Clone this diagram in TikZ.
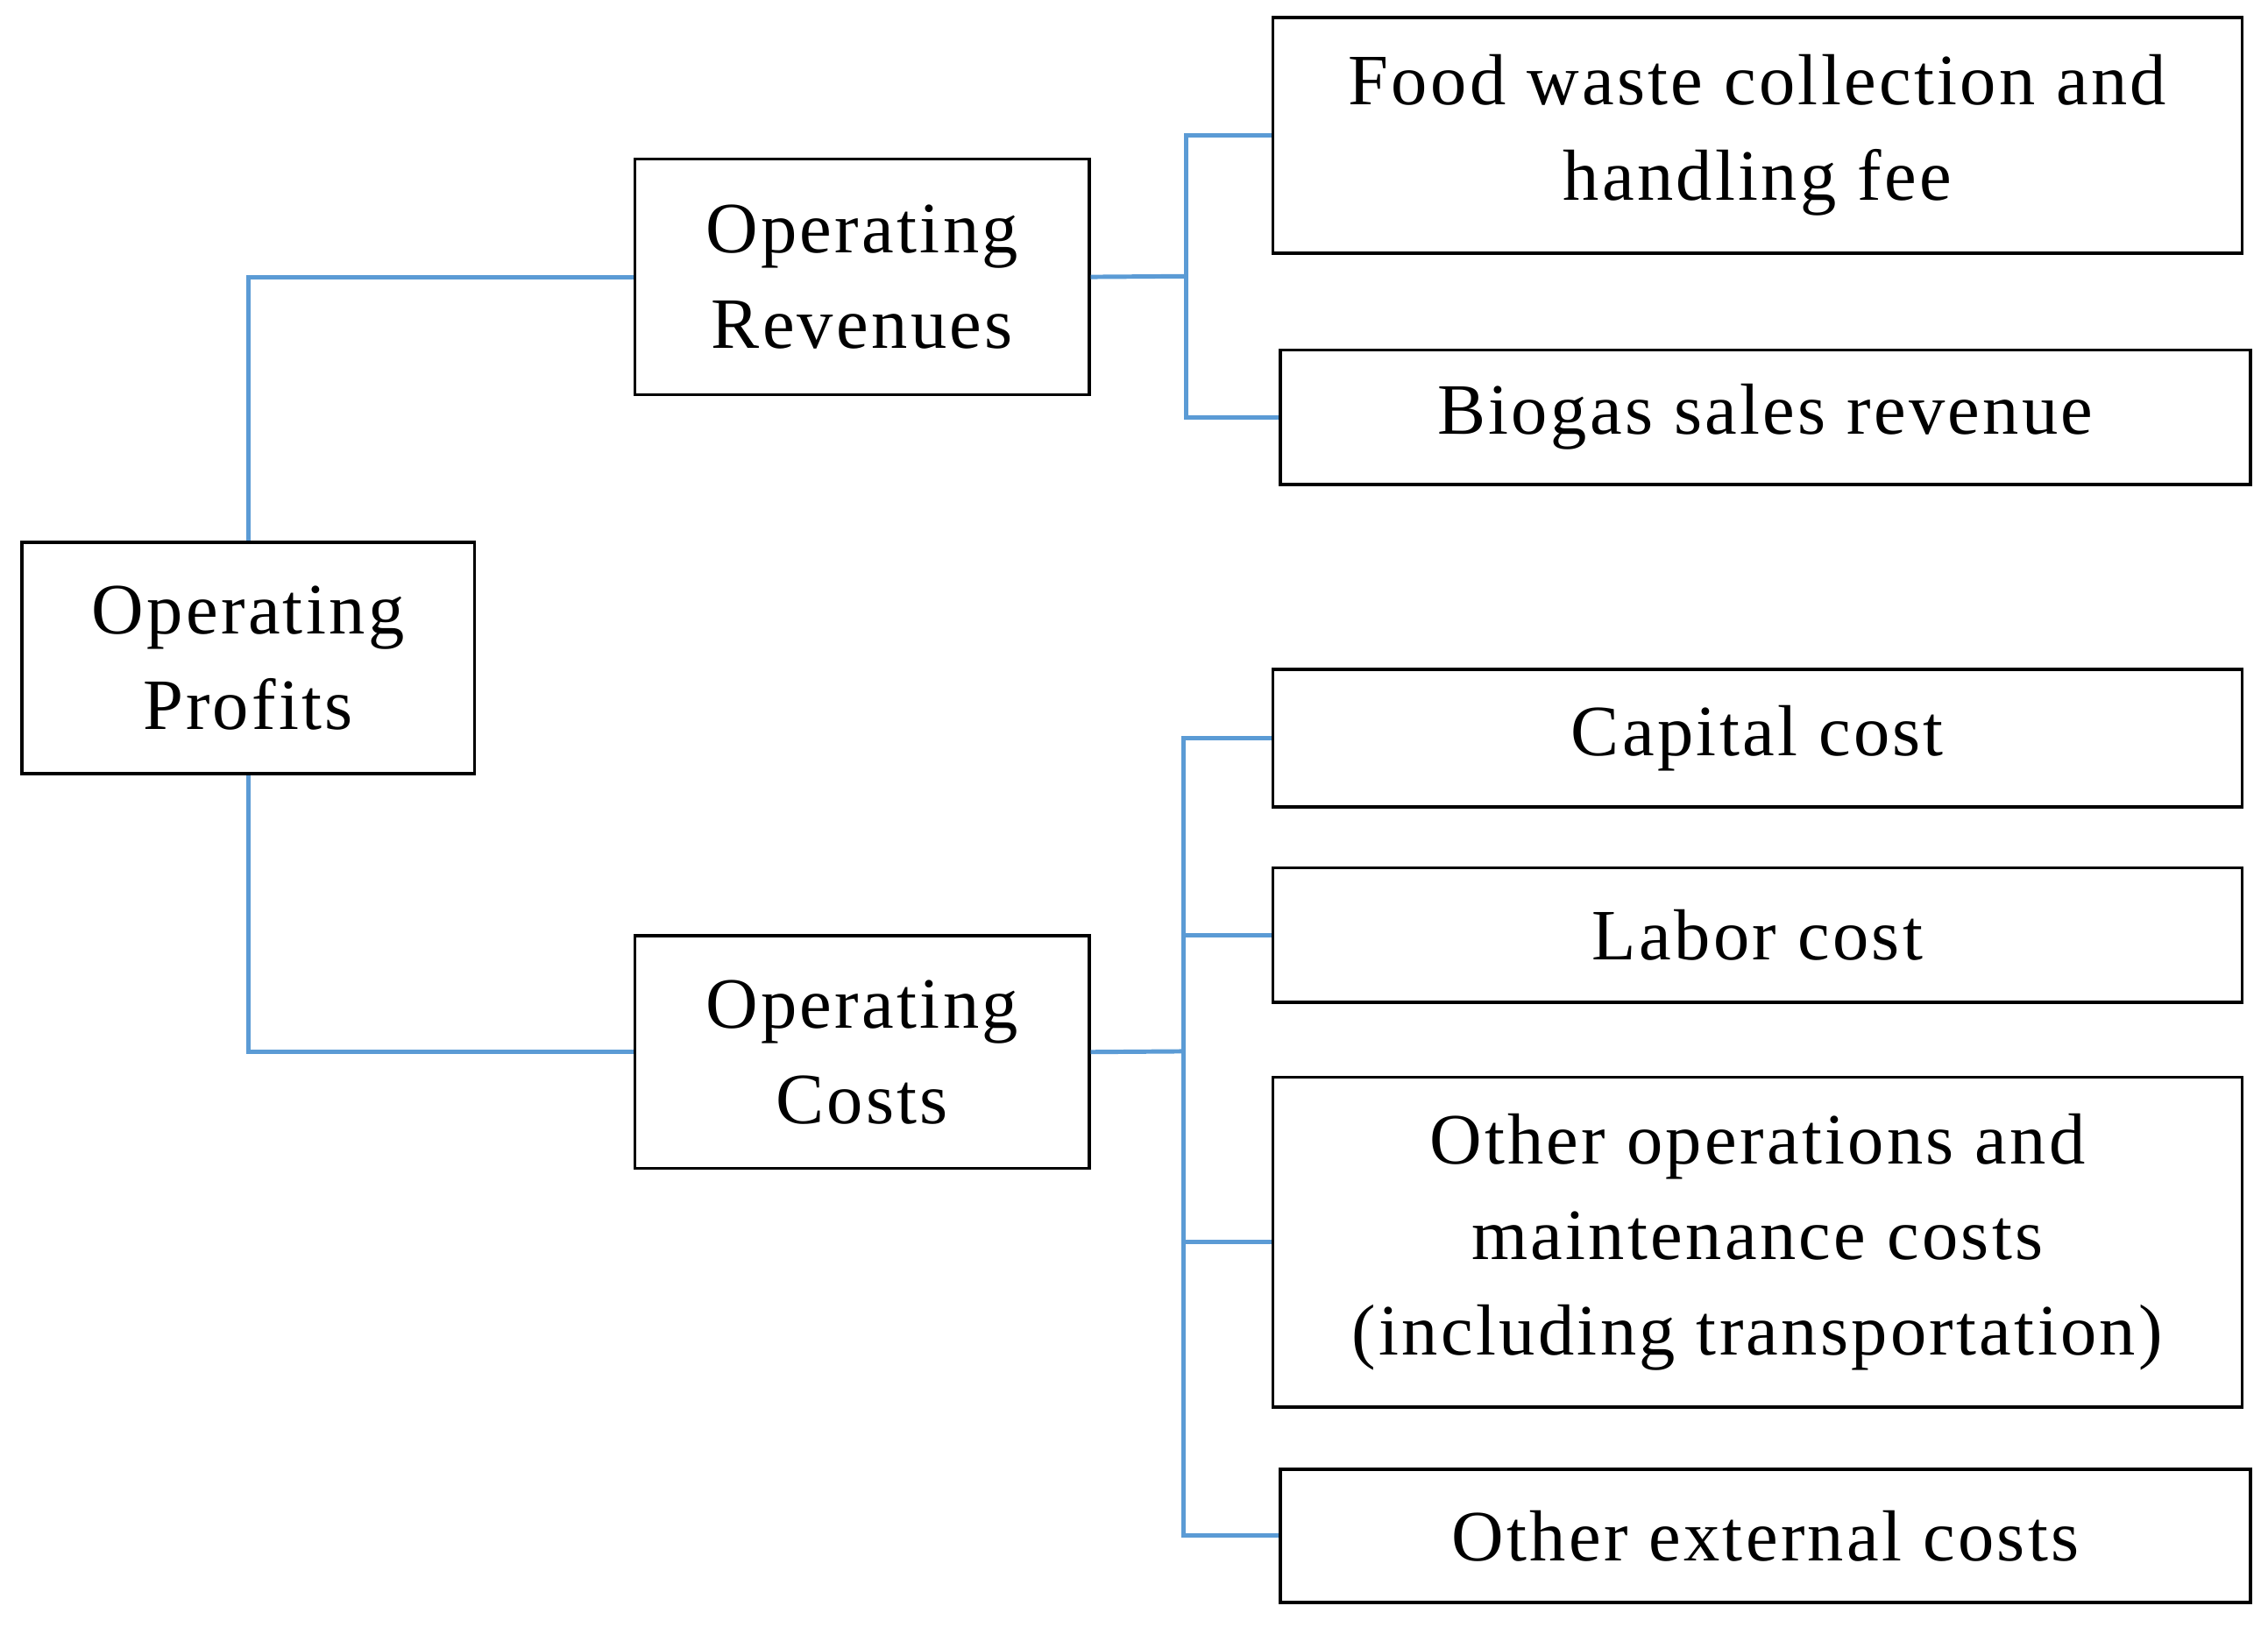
\documentclass[tikz,border=0pt]{standalone}
\usepackage{fontspec}
\setmainfont{Liberation Serif}[LetterSpace=4]
\definecolor{lb}{RGB}{91,155,213}
\begin{document}
\begin{tikzpicture}[x=1pt,y=-1pt,
  box/.style={draw=black,line width=2.2pt,align=center,font=\fontsize{50}{66}\selectfont,inner sep=0pt},
  con/.style={draw=lb,line width=3pt}]
\useasboundingbox (0,0) rectangle (1568,1125);
\node[box,minimum width=313pt,minimum height=160pt] (p) at (171.5,455) {Operating\\Profits};
\node[box,minimum width=314pt,minimum height=163pt] (r) at (596,191.5) {Operating\\Revenues};
\node[box,minimum width=314pt,minimum height=161pt] (c) at (596,727.5) {Operating\\Costs};
\node[box,minimum width=670pt,minimum height=163pt] (f) at (1215,93.5) {Food waste collection and\\handling fee};
\node[box,minimum width=671pt,minimum height=93pt] (b) at (1220.5,288.5) {Biogas sales revenue};
\node[box,minimum width=670pt,minimum height=95pt] (k) at (1215,510.5) {Capital cost};
\node[box,minimum width=670pt,minimum height=93pt] (l) at (1215,646.5) {Labor cost};
\node[box,minimum width=670pt,minimum height=228pt] (o) at (1215,859) {Other operations and\\maintenance costs\\(including transportation)};
\node[box,minimum width=671pt,minimum height=92pt] (e) at (1220.5,1062) {Other external costs};
\coordinate (rj) at (820,191);
\coordinate (cj) at (818,727);
\draw[con] (p.north) |- (r.west);
\draw[con] (p.south) |- (c.west);
\draw[con] (r.east) -- (rj);
\draw[con] (rj) |- (f.west);
\draw[con] (rj) |- (b.west);
\draw[con] (c.east) -- (cj);
\draw[con] (cj) |- (k.west);
\draw[con] (cj) |- (l.west);
\draw[con] (cj) |- (o.west);
\draw[con] (cj) |- (e.west);
\end{tikzpicture}
\end{document}
